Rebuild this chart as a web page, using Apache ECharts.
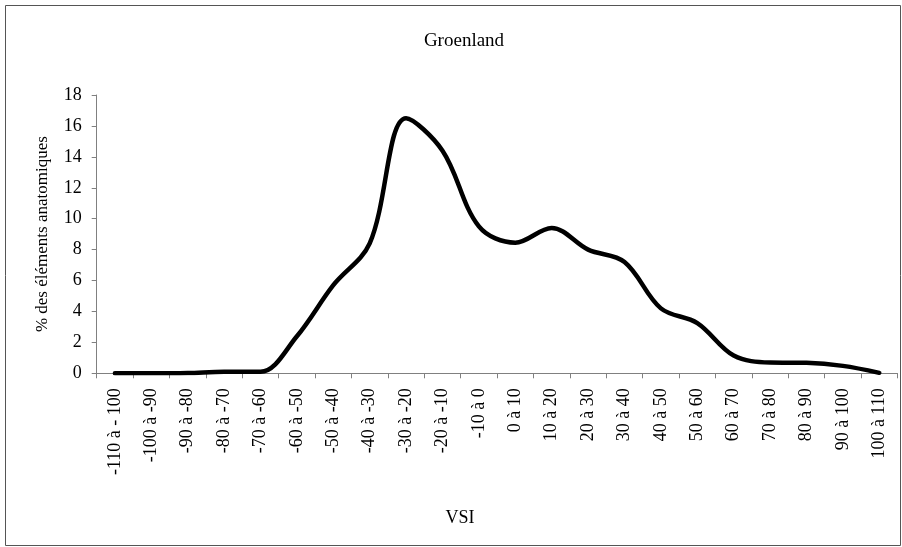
<!DOCTYPE html>
<html>
<head>
<meta charset="utf-8">
<script src="https://cdn.jsdelivr.net/npm/echarts@6/dist/echarts.min.js"></script>
<style>
html,body{margin:0;padding:0;background:#fff;}
#c{width:902px;height:547px;}
</style>
</head>
<body>
<div id="c"></div>
<script>
var categories = ["-110 à - 100","-100 à -90","-90 à -80","-80 à -70","-70 à -60","-60 à -50","-50 à -40","-40 à -30","-30 à -20","-20 à -10","-10 à 0","0 à 10","10 à 20","20 à 30","30 à 40","40 à 50","50 à 60","60 à 70","70 à 80","80 à 90","90 à 100","100 à 110"];
var values = [0, 0, 0.02, 0.1, 0.1, 2.4, 5.7, 8.4, 16.5, 14.4, 9.5, 8.45, 9.4, 8.0, 7.2, 4.2, 3.25, 1.15, 0.7, 0.68, 0.48, 0.03];
var titleText = "Groenland";
var xName = "VSI";
var yName = "% des éléments anatomiques";

var FONT = "'Liberation Serif','Times New Roman',serif";
var chart = echarts.init(document.getElementById('c'), null, {renderer:'canvas'});
chart.setOption({
  animation: false,
  backgroundColor: '#fff',
  title: {
    text: titleText, left: 459, top: 27, textAlign: 'center',
    textStyle: {fontFamily: FONT, fontSize: 19, fontWeight: 'normal', color: '#000'}
  },
  graphic: [{
    type: 'rect', shape: {x: 5.5, y: 5.5, width: 895, height: 540},
    style: {fill: 'none', stroke: '#555', lineWidth: 1}, silent: true, z: 100
  }],
  grid: {left: 96.7, right: 4.5, top: 95, bottom: 173.7, containLabel: false},
  xAxis: {
    type: 'category', data: categories, boundaryGap: true,
    name: xName, nameLocation: 'middle', nameGap: 136,
    nameTextStyle: {fontFamily: FONT, fontSize: 18, color: '#000', padding: [0, 74, 0, 0]},
    axisLine: {lineStyle: {color: '#808080', width: 1}},
    axisTick: {show: true, inside: false, length: 5, alignWithLabel: false, interval: 0, lineStyle: {color: '#808080'}},
    axisLabel: {interval: 0, rotate: 90, margin: 15, fontFamily: FONT, fontSize: 18, color: '#000'},
    splitLine: {show: false}
  },
  yAxis: {
    type: 'value', min: 0, max: 18, interval: 2,
    name: yName, nameLocation: 'middle', nameRotate: 90, nameGap: 46,
    nameTextStyle: {fontFamily: FONT, fontSize: 17, color: '#000'},
    axisLine: {show: true, lineStyle: {color: '#808080', width: 1}},
    axisTick: {show: true, inside: false, length: 5, lineStyle: {color: '#808080'}},
    axisLabel: {margin: 15, fontFamily: FONT, fontSize: 18, color: '#000'},
    splitLine: {show: false}
  },
  series: [{
    type: 'line', data: values, smooth: 0.35, symbol: 'none',
    lineStyle: {color: '#000', width: 4.5, join: 'round', cap: 'round'}
  }]
});
</script>
</body>
</html>
